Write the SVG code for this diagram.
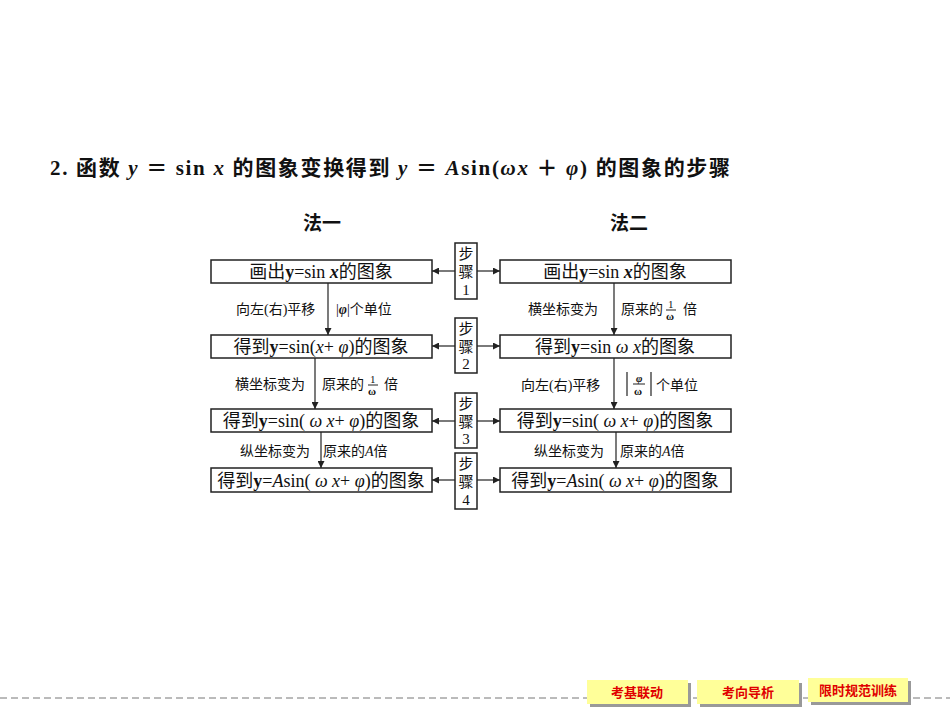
<svg xmlns="http://www.w3.org/2000/svg" width="950" height="713" viewBox="0 0 950 713">
<style>
text{font-family:"Liberation Serif","Noto Sans CJK SC",serif;fill:#111}
.b{fill:#fff;stroke:#222;stroke-width:1.5}
.t{font-size:18px;text-anchor:middle}
.l{font-size:14px}
.s{font-size:15px;text-anchor:middle}
.c line{stroke:#222;stroke-width:1.2}
.btn rect.f{fill:#ffff99}
.btn rect.sh{fill:#999}
.btn text{fill:#e00000;font-size:13px;font-weight:bold;text-anchor:middle;font-family:"Noto Sans CJK SC",sans-serif}
</style>
<defs><marker id="a" viewBox="0 0 10 10" refX="10" refY="5" markerWidth="9" markerHeight="7" orient="auto" markerUnits="userSpaceOnUse"><path d="M0,0L10,5L0,10z" fill="#222"/></marker></defs>
<rect width="950" height="713" fill="#fff"/>
<text x="50" y="175" textLength="680" lengthAdjust="spacing" style="font-size:21px;font-weight:bold">2. 函数 <tspan font-style="italic">y</tspan> ＝ sin <tspan font-style="italic">x</tspan> 的图象变换得到 <tspan font-style="italic">y</tspan> ＝ <tspan font-style="italic">A</tspan>sin(<tspan font-style="italic">ωx</tspan> ＋ <tspan font-style="italic">φ</tspan>) 的图象的步骤</text>
<text x="322" y="230" style="font-size:19px;font-weight:bold;text-anchor:middle">法一</text>
<text x="629" y="230" style="font-size:19px;font-weight:bold;text-anchor:middle">法二</text>
<g class="c">
<line x1="328" y1="283" x2="328" y2="335" marker-end="url(#a)"/>
<line x1="315" y1="358" x2="315" y2="409" marker-end="url(#a)"/>
<line x1="321" y1="432" x2="321" y2="468" marker-end="url(#a)"/>
<line x1="614" y1="283" x2="614" y2="335" marker-end="url(#a)"/>
<line x1="614" y1="358" x2="614" y2="409" marker-end="url(#a)"/>
<line x1="616" y1="432" x2="616" y2="468" marker-end="url(#a)"/>
<line x1="455" y1="271" x2="432" y2="271" marker-end="url(#a)"/>
<line x1="477" y1="271" x2="500" y2="271" marker-end="url(#a)"/>
<line x1="455" y1="346" x2="432" y2="346" marker-end="url(#a)"/>
<line x1="477" y1="346" x2="500" y2="346" marker-end="url(#a)"/>
<line x1="455" y1="421" x2="432" y2="421" marker-end="url(#a)"/>
<line x1="477" y1="421" x2="500" y2="421" marker-end="url(#a)"/>
<line x1="455" y1="480" x2="432" y2="480" marker-end="url(#a)"/>
<line x1="477" y1="480" x2="500" y2="480" marker-end="url(#a)"/>
<line x1="627" y1="372" x2="627" y2="396"/>
<line x1="651" y1="372" x2="651" y2="396"/>
</g>
<g id="L1"><rect class="b" x="211" y="260" width="221" height="23"/><text class="t" x="321" y="278">画出<tspan font-weight="bold">y</tspan>=sin <tspan font-style="italic" font-weight="bold">x</tspan>的图象</text></g>
<g id="L2"><rect class="b" x="211" y="335" width="221" height="23"/><text class="t" x="321" y="353">得到<tspan font-weight="bold">y</tspan>=sin(<tspan font-style="italic">x</tspan>+ <tspan font-style="italic">φ</tspan>)的图象</text></g>
<g id="L3"><rect class="b" x="211" y="409" width="221" height="23"/><text class="t" x="321" y="427">得到<tspan font-weight="bold">y</tspan>=sin( <tspan font-style="italic">ω x</tspan>+ <tspan font-style="italic">φ</tspan>)的图象</text></g>
<g id="L4"><rect class="b" x="211" y="468" width="221" height="24"/><text class="t" x="321" y="487">得到<tspan font-weight="bold">y</tspan>=<tspan font-style="italic">A</tspan>sin( <tspan font-style="italic">ω x</tspan>+ <tspan font-style="italic">φ</tspan>)的图象</text></g>
<g id="R1"><rect class="b" x="500" y="260" width="231" height="23"/><text class="t" x="615" y="278">画出<tspan font-weight="bold">y</tspan>=sin <tspan font-style="italic" font-weight="bold">x</tspan>的图象</text></g>
<g id="R2"><rect class="b" x="500" y="335" width="231" height="23"/><text class="t" x="615" y="353">得到<tspan font-weight="bold">y</tspan>=sin  <tspan font-style="italic">ω x</tspan>的图象</text></g>
<g id="R3"><rect class="b" x="500" y="409" width="231" height="23"/><text class="t" x="615" y="427">得到<tspan font-weight="bold">y</tspan>=sin( <tspan font-style="italic">ω x</tspan>+ <tspan font-style="italic">φ</tspan>)的图象</text></g>
<g id="R4"><rect class="b" x="500" y="468" width="231" height="24"/><text class="t" x="615" y="487">得到<tspan font-weight="bold">y</tspan>=<tspan font-style="italic">A</tspan>sin( <tspan font-style="italic">ω x</tspan>+ <tspan font-style="italic">φ</tspan>)的图象</text></g>
<g id="S1"><rect class="b" x="455" y="243" width="22" height="56"/><text class="s" x="466" y="259">步</text><text class="s" x="466" y="277">骤</text><text class="s" x="466" y="295">1</text></g>
<g id="S2"><rect class="b" x="455" y="318" width="22" height="55"/><text class="s" x="466" y="334">步</text><text class="s" x="466" y="352">骤</text><text class="s" x="466" y="369">2</text></g>
<g id="S3"><rect class="b" x="455" y="393" width="22" height="55"/><text class="s" x="466" y="409">步</text><text class="s" x="466" y="427">骤</text><text class="s" x="466" y="444">3</text></g>
<g id="S4"><rect class="b" x="455" y="453" width="22" height="56"/><text class="s" x="466" y="469">步</text><text class="s" x="466" y="487">骤</text><text class="s" x="466" y="505">4</text></g>
<g id="labels" class="l">
<text x="236" y="314">向左(右)平移</text><text x="336" y="314">|<tspan font-style="italic" font-weight="bold">φ</tspan>|个单位</text>
<text x="235" y="389">横坐标变为</text><text x="322" y="389">原来的</text><text x="370" y="383" style="font-size:11px">1</text><line x1="368" y1="385" x2="378" y2="385" stroke="#222"/><text x="368" y="395" style="font-size:11px;font-weight:bold">ω</text><text x="384" y="389">倍</text>
<text x="240" y="456">纵坐标变为</text><text x="323" y="456">原来的<tspan font-style="italic">A</tspan>倍</text>
<text x="528" y="314">横坐标变为</text><text x="621" y="314">原来的</text><text x="668" y="308" style="font-size:11px">1</text><line x1="666" y1="310" x2="676" y2="310" stroke="#222"/><text x="666" y="320" style="font-size:11px;font-weight:bold">ω</text><text x="683" y="314">倍</text>
<text x="521" y="390">向左(右)平移</text><text x="636" y="382" style="font-size:11px;font-style:italic;font-weight:bold">φ</text><line x1="633" y1="384" x2="645" y2="384" stroke="#222"/><text x="634" y="395" style="font-size:11px;font-weight:bold">ω</text><text x="656" y="390">个单位</text>
<text x="534" y="456">纵坐标变为</text><text x="620" y="456">原来的<tspan font-style="italic">A</tspan>倍</text>
</g>
<line x1="0" y1="698" x2="950" y2="698" stroke="#777" stroke-dasharray="7,4"/>
<g id="btn1" class="btn"><rect class="sh" x="590" y="683" width="101" height="24"/><rect class="f" x="587" y="680" width="101" height="24"/><text x="637" y="697">考基联动</text></g>
<g id="btn2" class="btn"><rect class="sh" x="700" y="683" width="102" height="24"/><rect class="f" x="697" y="680" width="102" height="24"/><text x="748" y="697">考向导析</text></g>
<g id="btn3" class="btn"><rect class="sh" x="811" y="681" width="100" height="24"/><rect class="f" x="808" y="678" width="100" height="24"/><text x="858" y="695">限时规范训练</text></g>
</svg>
